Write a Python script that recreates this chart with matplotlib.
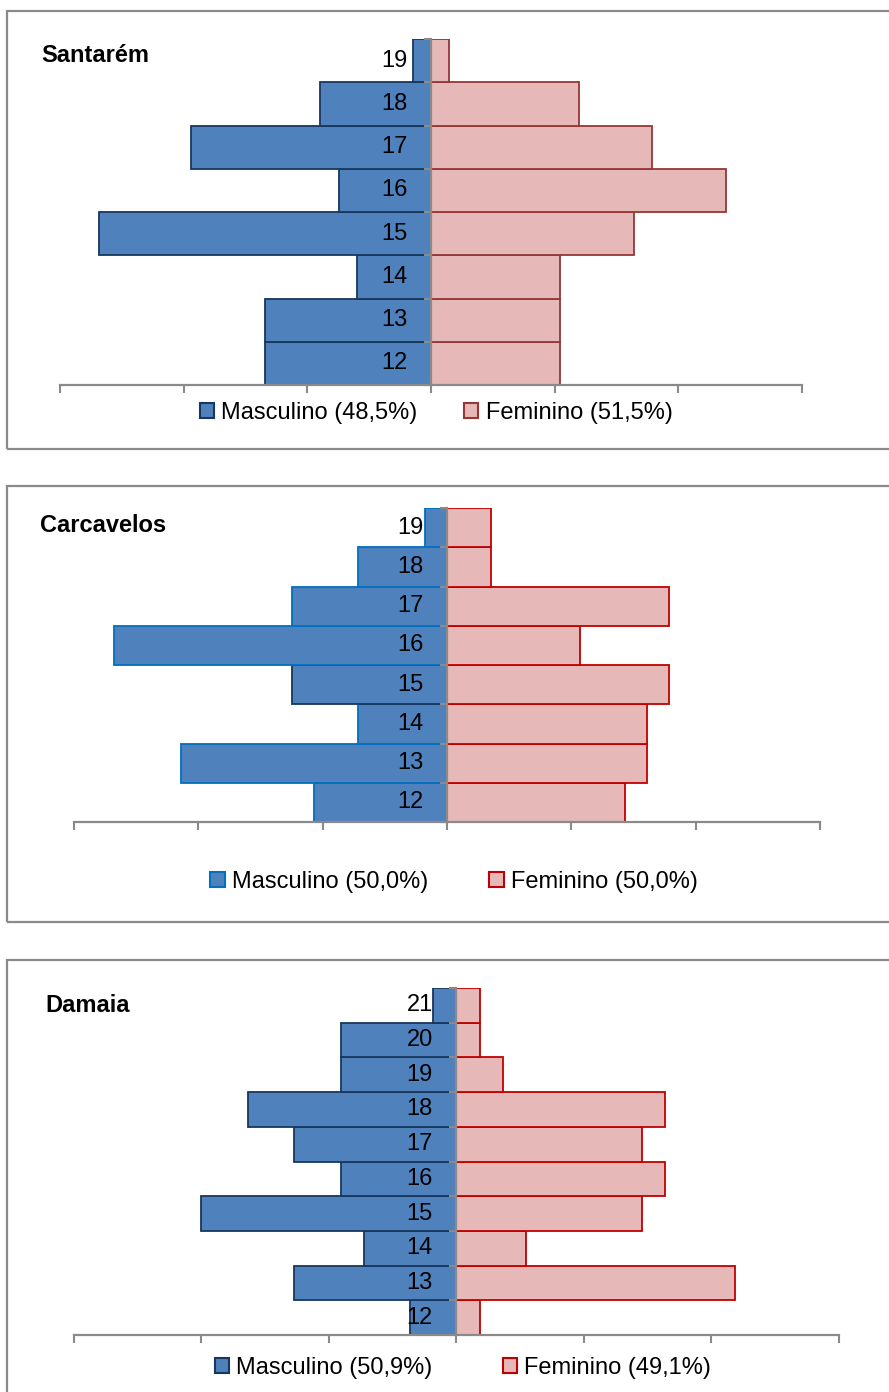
import numpy as np
import matplotlib.pyplot as plt
from matplotlib.patches import Rectangle, Patch

plt.rcParams['font.family'] = ['Liberation Sans', 'DejaVu Sans']

# counts per age (bottom to top)
santarem_ages = [12, 13, 14, 15, 16, 17, 18, 19]
santarem_m = [9, 9, 4, 18, 5, 13, 6, 1]
santarem_f = [7, 7, 7, 11, 16, 12, 8, 1]

carcavelos_ages = [12, 13, 14, 15, 16, 17, 18, 19]
carcavelos_m = [6, 12, 4, 7, 15, 7, 4, 1]
carcavelos_f = [8, 9, 9, 10, 6, 10, 2, 2]

damaia_ages = [12, 13, 14, 15, 16, 17, 18, 19, 20, 21]
damaia_m = [2, 7, 4, 11, 5, 7, 9, 5, 5, 1]
damaia_f = [1, 12, 3, 8, 9, 8, 9, 2, 1, 1]

W, H = 889, 1392
fig = plt.figure(figsize=(W / 100, H / 100), dpi=100)

BLUE = '#4F81BD'
PINK = '#E6B9B8'
NAVY = '#17375E'
GRAY = '#8A8A8A'


def pyramid(title, ages, m, f, box, ax_px, title_xy, leg_xy, m_edge, f_edge,
            leg_labels, colsp=2.0):
    # panel frame
    bx0, by0, bx1, by1 = box
    fig.patches.append(Rectangle((bx0 / W, 1 - by1 / H), (bx1 - bx0) / W,
                                 (by1 - by0) / H, transform=fig.transFigure,
                                 fill=False, ec=GRAY, lw=1.6))
    x0, x1, ytop, ybot = ax_px
    ax = fig.add_axes([x0 / W, 1 - ybot / H, (x1 - x0) / W, (ybot - ytop) / H])

    total = sum(m) + sum(f)
    pm = np.array(m) / total * 100
    pf = np.array(f) / total * 100
    y = np.arange(len(ages))

    ax.barh(y, -pm, height=1.0, color=BLUE, edgecolor=m_edge, lw=1.3)
    ax.barh(y, pf, height=1.0, color=PINK, edgecolor=f_edge, lw=1.3)

    ax.set_xlim(-15, 15)
    ax.set_ylim(-0.5, len(ages) - 0.5)
    ax.set_xticks(np.arange(-15, 16, 5))
    ax.set_xticklabels([])
    ax.set_yticks(np.arange(len(ages) + 1) - 0.5)
    ax.set_yticklabels([])
    ax.tick_params(axis='x', direction='out', length=6, width=1.5, color=GRAY)
    ax.tick_params(axis='y', direction='out', length=5, width=1.5, color=GRAY)
    for s in ['top', 'right']:
        ax.spines[s].set_visible(False)
    ax.spines['left'].set_position(('data', 0))
    ax.spines['left'].set_color(GRAY)
    ax.spines['left'].set_linewidth(1.6)
    ax.spines['bottom'].set_color(GRAY)
    ax.spines['bottom'].set_linewidth(1.6)
    ax.patch.set_visible(False)

    for i, a in enumerate(ages):
        ax.annotate(str(a), xy=(0, i), xytext=(-17, 0),
                    textcoords='offset points', ha='right', va='center',
                    fontsize=17)

    fig.text(title_xy[0] / W, 1 - title_xy[1] / H, title, fontsize=17,
             fontweight='bold', ha='left', va='center')

    me = m_edge if isinstance(m_edge, str) else m_edge[0]
    handles = [Patch(facecolor=BLUE, edgecolor=me, lw=1.5),
               Patch(facecolor=PINK, edgecolor=f_edge, lw=1.5)]
    fig.legend(handles, leg_labels, loc='center',
               bbox_to_anchor=(leg_xy[0] / W, 1 - leg_xy[1] / H), ncol=2,
               frameon=False, fontsize=17, handlelength=0.6,
               handleheight=0.6, handletextpad=0.3, columnspacing=colsp)


pyramid('Santarém', santarem_ages, santarem_m, santarem_f,
        (7, 11, 900, 449), (60, 802, 39, 385), (41, 56), (436, 413),
        NAVY, '#953735', ['Masculino (48,5%)', 'Feminino (51,5%)'])

carc_edges = ['#0070C0'] * len(carcavelos_ages)
carc_edges[3] = NAVY
pyramid('Carcavelos', carcavelos_ages, carcavelos_m, carcavelos_f,
        (7, 486, 900, 922), (74, 820, 508, 822), (40, 525), (454, 882),
        carc_edges, '#C00000', ['Masculino (50,0%)', 'Feminino (50,0%)'],
        colsp=2.6)

pyramid('Damaia', damaia_ages, damaia_m, damaia_f,
        (7, 960, 900, 1400), (74, 839, 988, 1335), (45, 1005), (463, 1368),
        NAVY, '#C00000', ['Masculino (50,9%)', 'Feminino (49,1%)'],
        colsp=3.0)

fig.savefig('out.png', dpi=100)
